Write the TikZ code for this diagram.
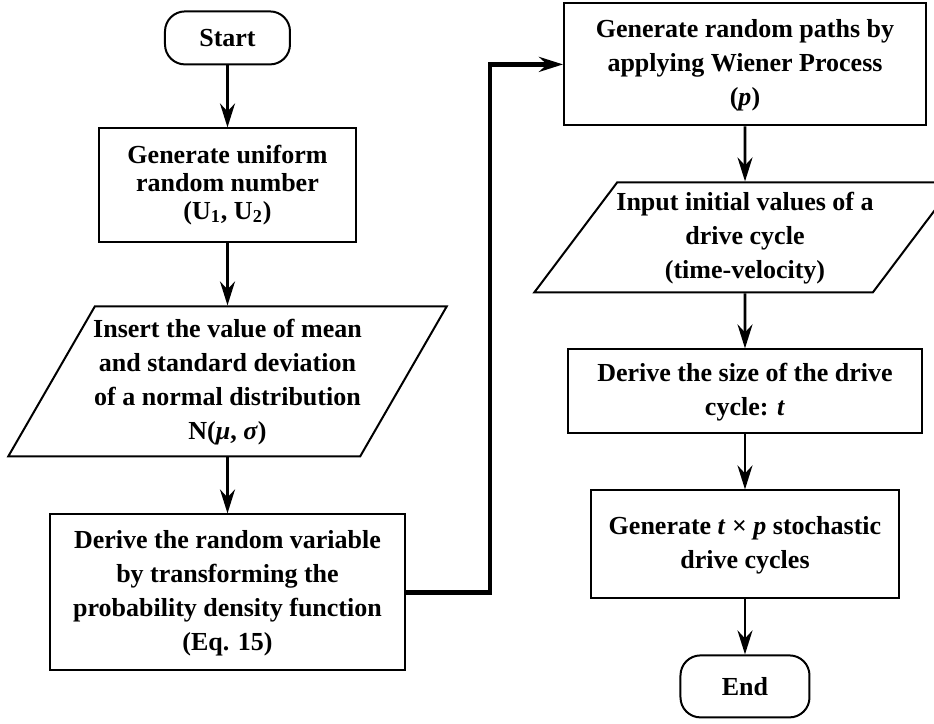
\documentclass[tikz,border=0pt]{standalone}
\usepackage{fontspec}
\setmainfont{Liberation Serif}
\usepackage{tikz}
\usetikzlibrary{positioning}
\usetikzlibrary{matrix}
\usetikzlibrary{shapes.geometric}
\usetikzlibrary{arrows.meta}
\newcommand{\flowlines}[1]{\begin{tabular}{@{}c@{}}#1\end{tabular}}

\begin{document}
\begin{tikzpicture}[
            termnode/.style={draw=black, line width=1pt, rounded corners=10pt, minimum width=62.5pt, minimum height=26.5pt},
            procnode/.style={draw=black, line width=1pt},
            ionode/.style={trapezium, trapezium left angle=60, trapezium right angle=120, draw=black, line width=1pt, inner xsep=-7pt},
            flow/.style={line width=1.4pt, -{Stealth[length=12pt, width=7.5pt, inset=4pt]}}
        ]
        \path[use as bounding box, fill=white] (0,0) rectangle (467pt,-362pt);
        \matrix (l) [ matrix of nodes, row sep=31pt, inner sep=0pt, anchor=north,
                    nodes = {anchor=center, font=\bfseries\fontsize{13}{17}\selectfont}] at (113.75pt,-5pt) {
                    |[termnode]| Start \\
                    |[procnode, minimum width=128.5pt, minimum height=57pt, font=\bfseries\fontsize{13}{14}\selectfont]| \flowlines{Generate uniform\\random number\\(U\textsubscript{1}, U\textsubscript{2})} \\
                    |[ionode, minimum height=75pt]| \flowlines{Insert the value of mean\\and standard deviation\\of a normal distribution\\N(\textit{μ}, \textit{σ})} \\[-3pt]
                    |[procnode, minimum width=177.5pt, minimum height=78pt]| \flowlines{Derive the random variable\\by transforming the\\probability density function\\(Eq. 15)} \\
        };
        \matrix (r) [ matrix of nodes, row sep=27.5pt, inner sep=0pt, anchor=north,
                    nodes = {anchor=center, font=\bfseries\fontsize{13}{17}\selectfont}] at (372.5pt,-1pt) {
                    |[procnode, minimum width=181pt, minimum height=61pt]| \flowlines{Generate random paths by\\applying Wiener Process\\(\textit{p})} \\
                    |[ionode, trapezium left angle=53, trapezium right angle=127, inner xsep=-5pt, minimum height=55pt]| \flowlines{Input initial values of a\\drive cycle\\(time-velocity)} \\
                    |[procnode, minimum width=177pt, minimum height=42pt]| \flowlines{Derive the size of the drive\\cycle: \textit{t}} \\
                    |[procnode, minimum width=154pt, minimum height=54pt]| \flowlines{Generate \textit{t} × \textit{p} stochastic\\drive cycles} \\
                    |[termnode, minimum width=64.5pt, minimum height=31pt]| End \\
        };
        \draw[flow] (l-1-1) -- (l-2-1);
        \draw[flow] (l-2-1) -- (l-3-1);
        \draw[flow] (l-3-1) -- (l-4-1);
        \draw[flow, line width=2.2pt] (l-4-1.east) -- ++(42pt,0) |- (r-1-1.west);
        \draw[flow] (r-1-1) -- (r-2-1);
        \draw[flow] (r-2-1) -- (r-3-1);
        \draw[flow] (r-3-1) -- (r-4-1);
        \draw[flow] (r-4-1) -- (r-5-1);
        \end{tikzpicture}
\end{document}
